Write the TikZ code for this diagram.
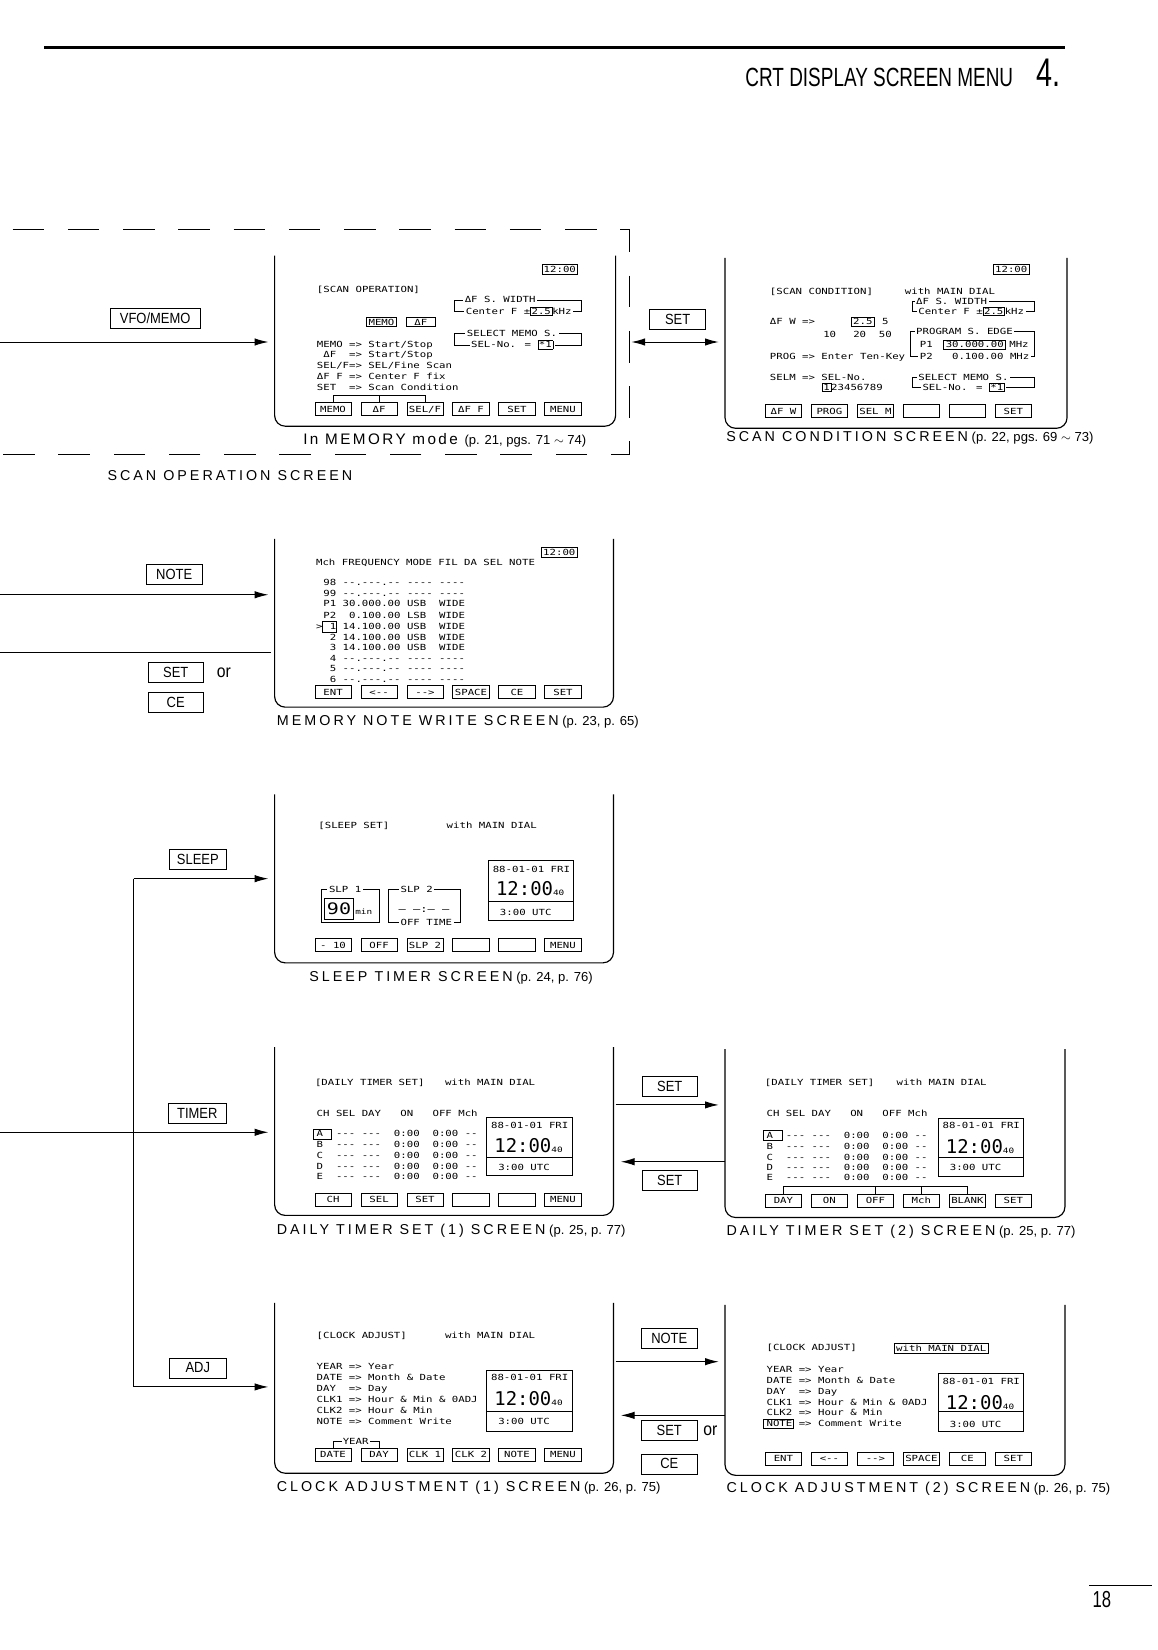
\documentclass[tikz,border=0pt]{standalone}
\usepackage{fontspec}
\setmainfont{Liberation Sans}
\newfontfamily\crt[FakeStretch=1.27]{DejaVu Sans Mono}
\newfontfamily\digfont{DejaVu Sans Mono}
\newfontfamily\capfont[LetterSpace=21]{Liberation Sans}
\newfontfamily\modefont[LetterSpace=16]{Liberation Sans}
\newfontfamily\keyfont[FakeStretch=0.88]{Liberation Sans}
\newfontfamily\titlefont[FakeStretch=0.72]{Liberation Sans}
\usetikzlibrary{arrows.meta,positioning}
\newcommand\tbox[1]{{\fboxsep=0.8pt\fboxrule=0.5pt\fbox{#1}}}

\begin{document}
\begin{tikzpicture}[x=1pt,y=-1pt,
  screen/.style={inner sep=0pt, outer sep=0pt, anchor=north west},
  screenline/.style={line width=1.1pt, rounded corners=10pt},
  crt/.style={font=\crt\fontsize{8}{10}\selectfont, inner sep=0pt, text height=5.8pt, text depth=0pt, anchor=west},
  crtbox/.style={crt, draw, line width=0.6pt, inner sep=1.6pt, anchor=center},
  softkey/.style={crt, draw, line width=0.7pt, anchor=center, minimum width=34.5pt, minimum height=12.5pt},
  bracket/.style={line width=0.6pt},
  panel/.style={line width=0.7pt},
  bigdig/.style={inner sep=0pt, anchor=west, text height=13pt, text depth=0pt, font=\digfont\fontsize{18}{18}\selectfont},
  hotkey/.style={draw, line width=0.6pt, font=\keyfont\fontsize{14}{14}\selectfont, inner sep=0pt, minimum width=53pt, minimum height=19pt},
  orword/.style={inner sep=0pt, font=\keyfont\fontsize{17}{17}\selectfont},
  caption/.style={inner sep=0pt, anchor=base west, font=\fontsize{12.4}{14}\selectfont},
  capword/.style={font=\capfont\fontsize{13.6}{15}\selectfont},
  link/.style={line width=0.9pt, -{Latex[length=13pt,width=7pt]}, shorten >=6pt},
  dashframe/.style={line width=1pt, dash pattern=on 30pt off 22.5pt, dash phase=40.5pt}]
\useasboundingbox (0,0) rectangle (1100,1568);

% page header
\draw[line width=2.4pt] (42,45) -- (1012,45);
\node[anchor=base east, inner sep=0pt, font=\titlefont\fontsize{25}{25}\selectfont] (title) at (963,82) {CRT DISPLAY SCREEN MENU};
\node[anchor=base west, inner sep=0pt, font=\titlefont\fontsize{38}{38}\selectfont] (chapter) at (985,82) {4.};

% scan operation (dashed frame)
\draw[dashframe] (0,218) -- (598,218) -- (598,432) -- (0,432);
\node[screen, minimum width=324pt, minimum height=162pt] (scanop) at (261,243) {};
\draw[screenline] (scanop.north west) -- (scanop.south west) -- (scanop.south east) -- (scanop.north east);
\node[crtbox] (scanop-clk) at (532,256) {12:00};
\node[crt] (scanop-t) at (301,275) {[SCAN OPERATION]};
\draw[bracket] (432,285) rectangle (552,296);
\node[crt, fill=white, inner xsep=1.5pt] (scanop-w1) at (440,285) {ΔF S. WIDTH};
\node[crt, fill=white, inner xsep=1.5pt] (scanop-w2) at (441,296) {Center F ±\tbox{2.5}kHz};
\node[crtbox, minimum width=29pt] (scanop-memo) at (362.5,306) {MEMO};
\node[crtbox, minimum width=28pt] (scanop-df) at (400,306) {ΔF};
\draw[bracket] (432,316.6) rectangle (552,327.7);
\node[crt, fill=white, inner xsep=1.5pt] (scanop-s1) at (442,316.6) {SELECT MEMO S.};
\node[crt, fill=white, inner xsep=1.5pt] (scanop-s2) at (446,327.7) {SEL-No. = \tbox{*1}};
\node[crt] (scanop-l1) at (301,327) {MEMO => Start/Stop};
\node[crt] (scanop-l2) at (301,337.3) {~ΔF~~=> Start/Stop};
\node[crt] (scanop-l3) at (301,347.7) {SEL/F=> SEL/Fine Scan};
\node[crt] (scanop-l4) at (301,357.8) {ΔF F => Center F fix};
\node[crt] (scanop-l5) at (301,368.3) {SET~~=> Scan Condition};
\node[softkey] (scanop-k0) at (316.5,388.7) {MEMO};
\node[softkey, right=8.5pt of scanop-k0] (scanop-k1) {ΔF};
\node[softkey, right=8.5pt of scanop-k1] (scanop-k2) {SEL/F};
\node[softkey, right=8.5pt of scanop-k2] (scanop-k3) {ΔF F};
\node[softkey, right=8.5pt of scanop-k3] (scanop-k4) {SET};
\node[softkey, right=8.5pt of scanop-k4] (scanop-k5) {MENU};
\draw[bracket] (scanop-k0.north) -- ++(0,-6.3) -| (scanop-k2.north);
\draw[bracket] (scanop-k1.north) -- ++(0,-6.3);
\node[caption, font=\modefont\fontsize{14.5}{16}\selectfont] (scanop-cap) at (288,422.4) {In MEMORY mode {\rmfamily\fontsize{12.4}{14}\selectfont(p. 21, pgs. 71 $\sim$ 74)}};
\node[caption, capword] (scanop-name) at (102,456.4) {SCAN OPERATION SCREEN};

% scan condition
\node[screen, minimum width=325pt, minimum height=162pt] (scancond) at (689,245) {};
\draw[screenline] (scancond.north west) -- (scancond.south west) -- (scancond.south east) -- (scancond.north east);
\node[crtbox] (scancond-clk) at (961,256) {12:00};
\node[crt] (scancond-t) at (731.5,277) {[SCAN CONDITION]};
\node[crt] (scancond-dial) at (859.7,277) {with MAIN DIAL};
\draw[bracket] (867,286.6) rectangle (983,296);
\node[crt, fill=white, inner xsep=1.5pt] (scancond-w1) at (869,286.6) {ΔF S. WIDTH};
\node[crt, fill=white, inner xsep=1.5pt] (scancond-w2) at (871,296) {Center F ±\tbox{2.5}kHz};
\node[crt] (scancond-dw) at (731.5,305.6) {ΔF W =>};
\node[crtbox] (scancond-w25) at (820,305.6) {2.5};
\node[crt] (scancond-w5) at (838,305.6) {5};
\node[crt, anchor=center] (scancond-w10) at (788.5,318.2) {10};
\node[crt, anchor=center] (scancond-w20) at (817,318.2) {20};
\node[crt, anchor=center] (scancond-w50) at (841.3,318.2) {50};
\draw[bracket] (865.5,315) rectangle (983,338.8);
\node[crt, fill=white, inner xsep=1.5pt] (scancond-p0) at (869,315) {PROGRAM S. EDGE};
\node[crt] (scancond-p1) at (874,327.7) {P1};
\node[crtbox, minimum width=59pt] (scancond-p1f) at (926.3,327.7) {30.000.00};
\node[crt] (scancond-p1u) at (959,327.7) {MHz};
\node[crt, fill=white, inner xsep=1.5pt] (scancond-p2) at (872.5,338.8) {P2~~~0.100.00 MHz};
\node[crt] (scancond-prog) at (731.5,338.8) {PROG => Enter Ten-Key};
\node[crt] (scancond-selm) at (731.5,358.8) {SELM => SEL-No.};
\node[crt] (scancond-nums) at (781,368.3) {\tbox{1}23456789};
\draw[bracket] (866.7,358.8) rectangle (983,368.3);
\node[crt, fill=white, inner xsep=1.5pt] (scancond-s1) at (871,358.8) {SELECT MEMO S.};
\node[crt, fill=white, inner xsep=1.5pt] (scancond-s2) at (875,368.3) {SEL-No. = \tbox{*1}};
\node[softkey] (scancond-k0) at (744.5,390.6) {ΔF W};
\node[softkey, right=8.5pt of scancond-k0] (scancond-k1) {PROG};
\node[softkey, right=8.5pt of scancond-k1] (scancond-k2) {SEL M};
\node[softkey, right=8.5pt of scancond-k2] (scancond-k3) {};
\node[softkey, right=8.5pt of scancond-k3] (scancond-k4) {};
\node[softkey, right=8.5pt of scancond-k4] (scancond-k5) {SET};
\node[caption] (scancond-cap) at (690,419.2) {{\capfont\fontsize{13.6}{15}\selectfont SCAN CONDITION SCREEN} (p. 22, pgs. 69 $\sim$ 73)};

% links into and out of scan screens
\node[hotkey, minimum width=85pt] (vfo) at (147.5,302.5) {VFO/MEMO};
\coordinate (vfo-in) at (0,325);
\draw[link] (vfo-in) -- (vfo-in -| scanop.west);
\node[hotkey] (set-a) at (644,303.5) {SET};
\coordinate (dash-r) at (599,325);
\draw[link, {Latex[length=13pt,width=7pt]}-{Latex[length=13pt,width=7pt]}, shorten <=1pt] (dash-r) -- (dash-r -| scancond.west);

% memory note write
\node[screen, minimum width=322pt, minimum height=160pt] (memo) at (261,512) {};
\draw[screenline] (memo.north west) -- (memo.south west) -- (memo.south east) -- (memo.north east);
\node[crtbox] (memo-clk) at (531.5,524.7) {12:00};
\node[crt] (memo-head) at (300.2,534.5) {Mch FREQUENCY MODE FIL DA SEL NOTE};
\node[crt] (memo-r1) at (307.1,553.5) {98 --.---.-- ---- ----};
\node[crt] (memo-r2) at (307.1,563.6) {99 --.---.-- ---- ----};
\node[crt] (memo-r3) at (307.1,573.8) {P1 30.000.00 USB~~WIDE};
\node[crt] (memo-r4) at (307.1,584.5) {P2~~0.100.00 LSB~~WIDE};
\node[crt] (memo-r5) at (307.1,595.3) {~1 14.100.00 USB~~WIDE};
\node[crt] (memo-r6) at (307.1,605.4) {~2 14.100.00 USB~~WIDE};
\node[crt] (memo-r7) at (307.1,615.6) {~3 14.100.00 USB~~WIDE};
\node[crt] (memo-r8) at (307.1,625.4) {~4 --.---.-- ---- ----};
\node[crt] (memo-r9) at (307.1,635.5) {~5 --.---.-- ---- ----};
\node[crt] (memo-r10) at (307.1,646) {~6 --.---.-- ---- ----};
\node[crt] (memo-cur) at (300.2,595.3) {>};
\draw[bracket] (306.5,590) rectangle (319.2,600.5);
\node[softkey] (memo-k0) at (316.5,657.8) {ENT};
\node[softkey, right=8.5pt of memo-k0] (memo-k1) {<--};
\node[softkey, right=8.5pt of memo-k1] (memo-k2) {-->};
\node[softkey, right=8.5pt of memo-k2] (memo-k3) {SPACE};
\node[softkey, right=8.5pt of memo-k3] (memo-k4) {CE};
\node[softkey, right=8.5pt of memo-k4] (memo-k5) {SET};
\node[caption] (memo-cap) at (263,689) {{\capfont\fontsize{13.6}{15}\selectfont MEMORY NOTE WRITE SCREEN} (p. 23, p. 65)};
\node[hotkey] (note-b) at (165.5,545.5) {NOTE};
\coordinate (note-in) at (0,565.2);
\draw[link] (note-in) -- (note-in -| memo.west);
\coordinate (memo-out) at (0,620);
\draw[line width=0.9pt, shorten >=3pt] (memo-out) -- (memo-out -| memo.west);
\node[hotkey] (set-b) at (167,639) {SET};
\node[hotkey, below=8.5pt of set-b] (ce-b) {CE};
\node[orword, right=12pt of set-b] (or-b) {or};

% sleep timer
\node[screen, minimum width=322pt, minimum height=160pt] (sleep) at (261,755) {};
\draw[screenline] (sleep.north west) -- (sleep.south west) -- (sleep.south east) -- (sleep.north east);
\node[crt] (sleep-t) at (302.4,784.7) {[SLEEP SET]};
\node[crt] (sleep-dial) at (424.3,784.7) {with MAIN DIAL};
\draw[bracket] (305.6,845.5) rectangle (360.3,876.5);
\node[crt, fill=white, inner xsep=1.5pt] (sleep-s1) at (311,845.5) {SLP 1};
\node[draw, line width=0.8pt, inner sep=0pt, minimum width=28pt, minimum height=20pt, font=\crt\fontsize{15}{15}\selectfont] (sleep-min) at (322.2,863.7) {90};
\node[crt, font=\crt\fontsize{7}{7}\selectfont] (sleep-unit) at (337.5,866.6) {min};
\draw[bracket] (368.9,845.5) rectangle (437,876.5);
\node[crt, fill=white, inner xsep=1.5pt] (sleep-s2) at (379,845.5) {SLP 2};
\node[crt, fill=white, inner xsep=1.5pt] (sleep-off) at (379,876.5) {OFF TIME};
\node[crt, anchor=center, font=\crt\fontsize{9}{9}\selectfont] (sleep-none) at (403,863.8) {–~–:–~–};
\draw[panel] (463.9,817.9) rectangle (544.6,874.6);
\draw[panel] (463.9,856.5) -- (544.6,856.5);
\node[crt] (sleep-date) at (468.1,826.4) {88-01-01 FRI};
\node[bigdig] (sleep-time) at (471.2,844.8) {12:00\crt\fontsize{7}{7}\selectfont40};
\node[crt] (sleep-utc) at (474.9,867) {3:00 UTC};
\node[softkey] (sleep-k0) at (316.5,898.3) {- 10};
\node[softkey, right=8.5pt of sleep-k0] (sleep-k1) {OFF};
\node[softkey, right=8.5pt of sleep-k1] (sleep-k2) {SLP 2};
\node[softkey, right=8.5pt of sleep-k2] (sleep-k3) {};
\node[softkey, right=8.5pt of sleep-k3] (sleep-k4) {};
\node[softkey, right=8.5pt of sleep-k4] (sleep-k5) {MENU};
\node[caption] (sleep-cap) at (293.8,932.5) {{\capfont\fontsize{13.6}{15}\selectfont SLEEP TIMER SCREEN} (p. 24, p. 76)};

% daily timer set (1)
\node[screen, minimum width=322pt, minimum height=160pt] (dtone) at (261,995) {};
\draw[screenline] (dtone.north west) -- (dtone.south west) -- (dtone.south east) -- (dtone.north east);
\node[crt] (dtone-t) at (299.2,1028.5) {[DAILY TIMER SET]};
\node[crt] (dtone-dial) at (422.7,1028.5) {with MAIN DIAL};
\node[crt] (dtone-head) at (300.8,1058.2) {CH SEL DAY~~~ON~~~OFF Mch};
\node[crt] (dtone-r1) at (300.8,1077.5) {A~~--- ---~~0:00~~0:00 --};
\node[crt] (dtone-r2) at (300.8,1087.7) {B~~--- ---~~0:00~~0:00 --};
\node[crt] (dtone-r3) at (300.8,1098.1) {C~~--- ---~~0:00~~0:00 --};
\node[crt] (dtone-r4) at (300.8,1108.3) {D~~--- ---~~0:00~~0:00 --};
\node[crt] (dtone-r5) at (300.8,1118.4) {E~~--- ---~~0:00~~0:00 --};
\draw[bracket] (297.6,1073.4) rectangle (315.1,1082.3);
\draw[panel] (462.3,1061.4) rectangle (544,1117);
\draw[panel] (462.3,1099.4) -- (544,1099.4);
\node[crt] (dtone-date) at (466.5,1069.6) {88-01-01 FRI};
\node[bigdig] (dtone-time) at (469.6,1088.6) {12:00\crt\fontsize{7}{7}\selectfont40};
\node[crt] (dtone-utc) at (473.3,1109.2) {3:00 UTC};
\node[softkey] (dtone-k0) at (316.5,1140) {CH};
\node[softkey, right=8.5pt of dtone-k0] (dtone-k1) {SEL};
\node[softkey, right=8.5pt of dtone-k1] (dtone-k2) {SET};
\node[softkey, right=8.5pt of dtone-k2] (dtone-k3) {};
\node[softkey, right=8.5pt of dtone-k3] (dtone-k4) {};
\node[softkey, right=8.5pt of dtone-k4] (dtone-k5) {MENU};
\node[caption] (dtone-cap) at (262.8,1173.4) {{\capfont\fontsize{13.6}{15}\selectfont DAILY TIMER SET (1) SCREEN} (p. 25, p. 77)};

% daily timer set (2)
\node[screen, minimum width=323pt, minimum height=160pt] (dttwo) at (689,997) {};
\draw[screenline] (dttwo.north west) -- (dttwo.south west) -- (dttwo.south east) -- (dttwo.north east);
\node[crt] (dttwo-t) at (726.7,1028.5) {[DAILY TIMER SET]};
\node[crt] (dttwo-dial) at (851.8,1028.5) {with MAIN DIAL};
\node[crt] (dttwo-head) at (728.3,1058.2) {CH SEL DAY~~~ON~~~OFF Mch};
\node[crt] (dttwo-r1) at (728.3,1078.8) {A~~--- ---~~0:00~~0:00 --};
\node[crt] (dttwo-r2) at (728.3,1089.3) {B~~--- ---~~0:00~~0:00 --};
\node[crt] (dttwo-r3) at (728.3,1099.7) {C~~--- ---~~0:00~~0:00 --};
\node[crt] (dttwo-r4) at (728.3,1109.2) {D~~--- ---~~0:00~~0:00 --};
\node[crt] (dttwo-r5) at (728.3,1119.3) {E~~--- ---~~0:00~~0:00 --};
\draw[bracket] (725.1,1074.4) rectangle (743.2,1083.3);
\draw[panel] (891.4,1062.4) rectangle (972.7,1117.8);
\draw[panel] (891.4,1100.3) -- (972.7,1100.3);
\node[crt] (dttwo-date) at (895.6,1069.5) {88-01-01 FRI};
\node[bigdig] (dttwo-time) at (898.7,1089.3) {12:00\crt\fontsize{7}{7}\selectfont40};
\node[crt] (dttwo-utc) at (902.4,1109.8) {3:00 UTC};
\node[softkey] (dttwo-k0) at (744.5,1140.9) {DAY};
\node[softkey, right=8.5pt of dttwo-k0] (dttwo-k1) {ON};
\node[softkey, right=8.5pt of dttwo-k1] (dttwo-k2) {OFF};
\node[softkey, right=8.5pt of dttwo-k2] (dttwo-k3) {Mch};
\node[softkey, right=8.5pt of dttwo-k3] (dttwo-k4) {BLANK};
\node[softkey, right=8.5pt of dttwo-k4] (dttwo-k5) {SET};
\draw[bracket] (dttwo-k0.north) -- ++(0,-7.2) -| (dttwo-k4.north);
\draw[bracket] (dttwo-k2.north) -- ++(0,-7.2);
\draw[bracket] (dttwo-k3.north) -- ++(0,-7.2);
\node[caption] (dttwo-cap) at (690.3,1174.4) {{\capfont\fontsize{13.6}{15}\selectfont DAILY TIMER SET (2) SCREEN} (p. 25, p. 77)};
\node[hotkey] (set-c) at (636.5,1032.5) {SET};
\draw[link, shorten <=2pt] (dtone.east |- 0,1050) -- (dttwo.west |- 0,1050);
\node[hotkey] (set-d) at (636.5,1121.5) {SET};
\draw[link, shorten >=7pt] (dttwo.west |- 0,1104) -- (dtone.east |- 0,1104);

% clock adjustment (1)
\node[screen, minimum width=322pt, minimum height=162pt] (clkone) at (261,1238) {};
\draw[screenline] (clkone.north west) -- (clkone.south west) -- (clkone.south east) -- (clkone.north east);
\node[crt] (clkone-t) at (300.8,1269.1) {[CLOCK ADJUST]};
\node[crt] (clkone-dial) at (422.7,1269.1) {with MAIN DIAL};
\node[crt] (clkone-l1) at (300.8,1298.9) {YEAR => Year};
\node[crt] (clkone-l2) at (300.8,1309) {DATE => Month \& Date};
\node[crt] (clkone-l3) at (300.8,1319.5) {DAY~~=> Day};
\node[crt] (clkone-l4) at (300.8,1329.9) {CLK1 => Hour \& Min \& 0ADJ};
\node[crt] (clkone-l5) at (300.8,1340.4) {CLK2 => Hour \& Min};
\node[crt] (clkone-l6) at (300.8,1350.8) {NOTE => Comment Write};
\draw[panel] (462.3,1302.4) rectangle (544,1360);
\draw[panel] (462.3,1341) -- (544,1341);
\node[crt] (clkone-date) at (466.5,1309.3) {88-01-01 FRI};
\node[bigdig] (clkone-time) at (469.6,1329) {12:00\crt\fontsize{7}{7}\selectfont40};
\node[crt] (clkone-utc) at (473.3,1350.5) {3:00 UTC};
\node[softkey] (clkone-k0) at (316.5,1382.2) {DATE\hspace{8pt}};
\node[softkey, right=8.5pt of clkone-k0] (clkone-k1) {DAY\hspace{12pt}};
\node[softkey, right=8.5pt of clkone-k1] (clkone-k2) {CLK 1};
\node[softkey, right=8.5pt of clkone-k2] (clkone-k3) {CLK 2};
\node[softkey, right=8.5pt of clkone-k3] (clkone-k4) {NOTE};
\node[softkey, right=8.5pt of clkone-k4] (clkone-k5) {MENU};
\draw[bracket] (clkone-k0.north) -- ++(0,-6.4) -| (clkone-k1.north);
\node[crt, anchor=center, fill=white, inner xsep=1pt] (clkone-year) at (338,1369.6) {YEAR};
\node[caption] (clkone-cap) at (262.8,1417.6) {{\capfont\fontsize{13.6}{15}\selectfont CLOCK ADJUSTMENT (1) SCREEN} (p. 26, p. 75)};

% clock adjustment (2)
\node[screen, minimum width=323pt, minimum height=162pt] (clktwo) at (689,1240) {};
\draw[screenline] (clktwo.north west) -- (clktwo.south west) -- (clktwo.south east) -- (clktwo.north east);
\node[crt] (clktwo-t) at (728.3,1280.8) {[CLOCK ADJUST]};
\node[crtbox] (clktwo-dial) at (894.5,1281.2) {with MAIN DIAL};
\node[crt] (clktwo-l1) at (728.3,1301.4) {YEAR => Year};
\node[crt] (clktwo-l2) at (728.3,1311.9) {DATE => Month \& Date};
\node[crt] (clktwo-l3) at (728.3,1322) {DAY~~=> Day};
\node[crt] (clktwo-l4) at (728.3,1332.5) {CLK1 => Hour \& Min \& 0ADJ};
\node[crt] (clktwo-l5) at (728.3,1342.6) {CLK2 => Hour \& Min};
\node[crt] (clktwo-l6) at (728.3,1353) {NOTE => Comment Write};
\draw[bracket] (725.8,1348.6) rectangle (754,1357.4);
\draw[panel] (891.4,1305.5) rectangle (972.7,1360.6);
\draw[panel] (891.4,1341.6) -- (972.7,1341.6);
\node[crt] (clktwo-date) at (895.6,1313.1) {88-01-01 FRI};
\node[bigdig] (clktwo-time) at (898.7,1332.5) {12:00\crt\fontsize{7}{7}\selectfont40};
\node[crt] (clktwo-utc) at (902.4,1353.7) {3:00 UTC};
\node[softkey] (clktwo-k0) at (744.5,1386.2) {ENT};
\node[softkey, right=8.5pt of clktwo-k0] (clktwo-k1) {<--};
\node[softkey, right=8.5pt of clktwo-k1] (clktwo-k2) {-->};
\node[softkey, right=8.5pt of clktwo-k2] (clktwo-k3) {SPACE};
\node[softkey, right=8.5pt of clktwo-k3] (clktwo-k4) {CE};
\node[softkey, right=8.5pt of clktwo-k4] (clktwo-k5) {SET};
\node[caption] (clktwo-cap) at (690.3,1418.2) {{\capfont\fontsize{13.6}{15}\selectfont CLOCK ADJUSTMENT (2) SCREEN} (p. 26, p. 75)};
\node[hotkey] (note-e) at (636,1271.5) {NOTE};
\draw[link, shorten <=2pt] (clkone.east |- 0,1294) -- (clktwo.west |- 0,1294);
\draw[link, shorten >=7pt] (clktwo.west |- 0,1345) -- (clkone.east |- 0,1345);
\node[hotkey] (set-e) at (636,1359.5) {SET};
\node[hotkey, below=12pt of set-e] (ce-e) {CE};
\node[orword, right=5.5pt of set-e] (or-e) {or};

% timer keys on the left
\node[hotkey, minimum width=54pt] (sleepkey) at (188,817) {SLEEP};
\node[hotkey, minimum width=55pt] (timerkey) at (187.5,1058) {TIMER};
\node[hotkey, minimum width=54pt] (adjkey) at (188,1300) {ADJ};
\coordinate (fork-top) at (127,835);
\coordinate (fork-bot) at (127,1318);
\draw[link] (fork-top) -- (fork-top -| sleep.west);
\draw[link] (fork-top) -- (fork-bot) -- (fork-bot -| clkone.west);
\coordinate (timer-in) at (0,1076);
\draw[link] (timer-in) -- (timer-in -| dtone.west);

% page number
\draw[line width=0.5pt] (1035,1506) -- (1095,1506);
\node[anchor=base west, inner sep=0pt, font=\titlefont\fontsize{22}{22}\selectfont] (pageno) at (1038,1528) {18};
\end{tikzpicture}
\end{document}
